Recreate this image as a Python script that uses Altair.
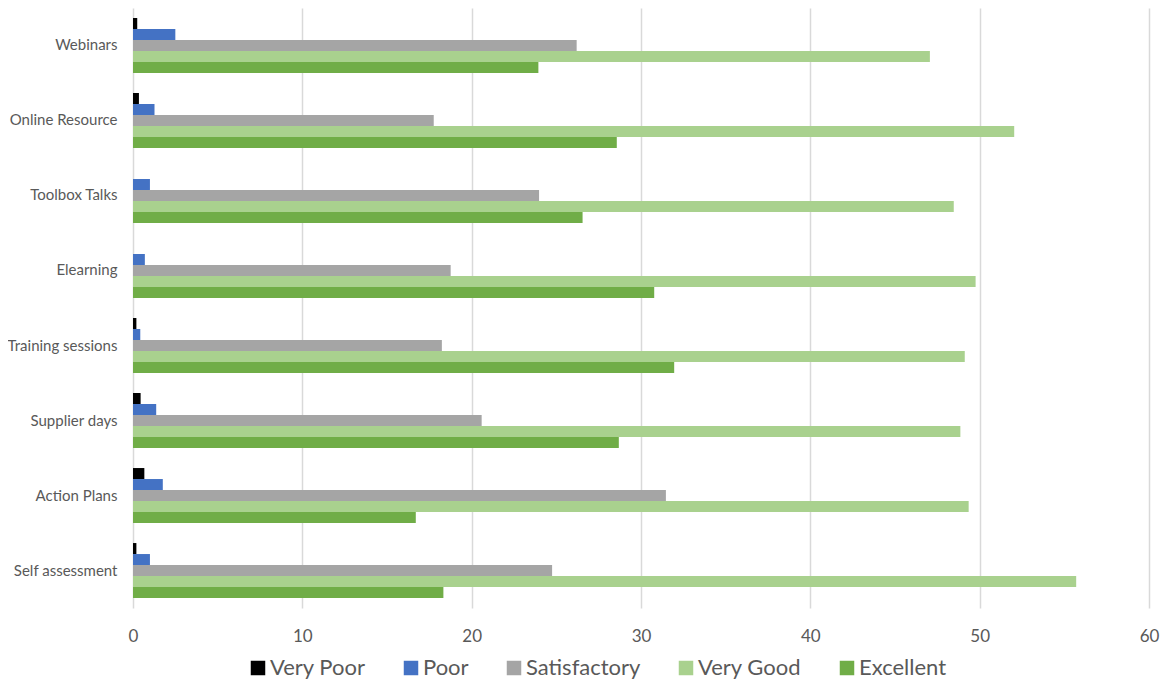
import altair as alt
import pandas as pd

categories = ["Webinars", "Online Resource", "Toolbox Talks", "Elearning",
              "Training sessions", "Supplier days", "Action Plans", "Self assessment"]
series = ["Very Poor", "Poor", "Satisfactory", "Very Good", "Excellent"]
colors = ["#000000", "#4472C4", "#A5A5A5", "#A9D18E", "#70AD47"]

very_poor = [0.25, 0.35, 0.0, 0.0, 0.2, 0.45, 0.67, 0.2]
poor = [2.5, 1.27, 1.0, 0.7, 0.43, 1.37, 1.76, 1.0]
satisfactory = [26.2, 17.76, 23.98, 18.76, 18.24, 20.59, 31.47, 24.75]
very_good = [47.06, 52.04, 48.47, 49.76, 49.12, 48.86, 49.35, 55.7]
excellent = [23.94, 28.57, 26.55, 30.78, 31.96, 28.69, 16.7, 18.33]

values = [very_poor, poor, satisfactory, very_good, excellent]
rows = []
for s, vals in zip(series, values):
    for c, v in zip(categories, vals):
        rows.append({"category": c, "series": s, "value": v})
df = pd.DataFrame(rows)

FONT = "Lato"
TXT = "#595959"

chart = alt.Chart(df).mark_bar().encode(
    y=alt.Y("category:N", sort=categories,
            scale=alt.Scale(paddingInner=0.267, paddingOuter=0.133),
            axis=alt.Axis(title=None, ticks=False, domain=False, labelPadding=16,
                          labelFontSize=15, labelColor=TXT, labelFont=FONT)),
    yOffset=alt.YOffset("series:N", sort=series, scale=alt.Scale(paddingInner=0, paddingOuter=0)),
    x=alt.X("value:Q", scale=alt.Scale(domain=[0, 60], nice=False),
            axis=alt.Axis(title=None, values=[0, 10, 20, 30, 40, 50, 60], ticks=False,
                          domain=False, grid=True, gridColor="#D9D9D9", gridWidth=1.5,
                          labelFlush=False,
                          labelFontSize=17, labelColor=TXT, labelFont=FONT, labelPadding=20)),
    color=alt.Color("series:N", sort=series,
                    scale=alt.Scale(domain=series, range=colors),
                    legend=alt.Legend(title=None, orient="none", direction="horizontal",
                                      legendX=114, legendY=649, symbolType="square",
                                      symbolSize=210, symbolStrokeWidth=0, labelFontSize=22,
                                      labelFont=FONT, labelColor=TXT, labelOffset=1,
                                      columnPadding=34, padding=0)),
).properties(
    width=1016, height=600,
    autosize=alt.AutoSizeParams(type="none"),
    padding={"left": 125, "top": 0, "right": 13, "bottom": 85},
).configure_view(stroke=None)

chart.save("out.html", embed_options={"renderer": "svg", "actions": False})
